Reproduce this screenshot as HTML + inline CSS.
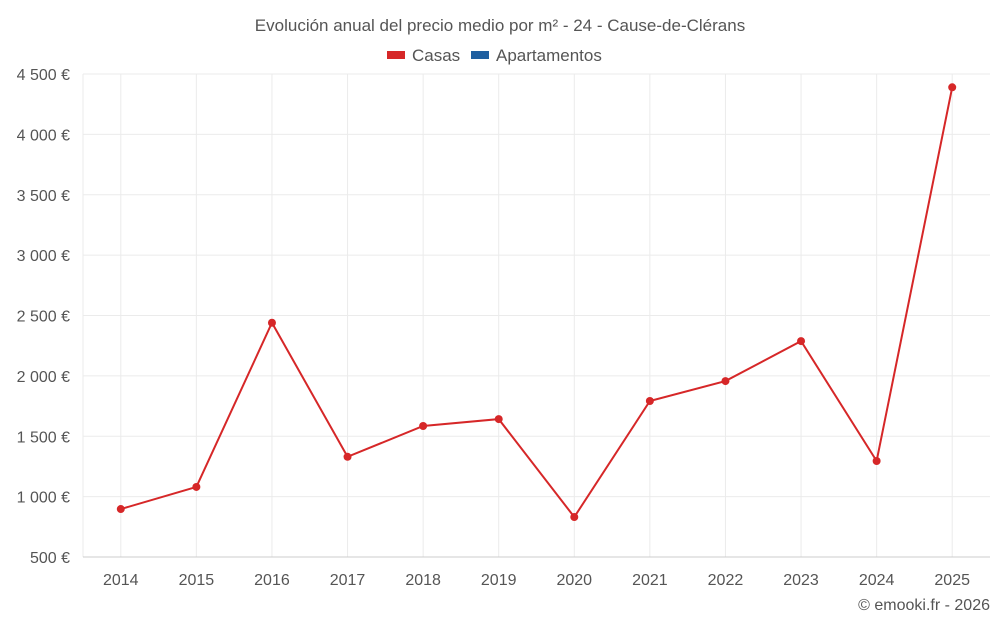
<!DOCTYPE html>
<html><head><meta charset="utf-8">
<style>
body{margin:0;background:#fff;font-family:"Liberation Sans",sans-serif;}
svg text{font-family:"Liberation Sans",sans-serif;fill:#555;}
</style></head>
<body>
<svg id="chart" width="1000" height="625">
<text x="500" y="31" text-anchor="middle" font-size="17">Evolución anual del precio medio por m² - 24 - Cause-de-Clérans</text>
<g>
<g><rect x="387" y="51" width="18" height="8" fill="#d62728"/><text x="412" y="61" font-size="17">Casas</text></g>
<g><rect x="471" y="51" width="18" height="8" fill="#1f5fa0"/><text x="496" y="61" font-size="17">Apartamentos</text></g>
</g>
<g id="grid"></g>
<g id="axes"></g>
<g id="series"></g>
<text x="990" y="610" text-anchor="end" font-size="16">© emooki.fr - 2026</text>
</svg>
<script>
const years = ["2014","2015","2016","2017","2018","2019","2020","2021","2022","2023","2024","2025"];
const casas = [897,1080,2440,1330,1585,1642,831,1792,1957,2288,1295,4390];
const yTicks = [500,1000,1500,2000,2500,3000,3500,4000,4500];
const L=83,R=990,T=74,B=557,yMin=500,yMax=4500;
const bw=(R-L)/years.length;
const xf=i=>L+bw*(i+0.5);
const yf=v=>B-(v-yMin)/(yMax-yMin)*(B-T);
const NS="http://www.w3.org/2000/svg";
function mk(tag,attrs,parent){const e=document.createElementNS(NS,tag);for(const k in attrs)e.setAttribute(k,attrs[k]);parent.appendChild(e);return e;}
const grid=document.getElementById('grid'),axes=document.getElementById('axes'),series=document.getElementById('series');
const fmt=v=>String(v).replace(/\B(?=(\d{3})+(?!\d))/g,' ')+' €';
yTicks.forEach(v=>{
  const g=mk('line',{x1:L,x2:R,y1:yf(v),y2:yf(v),stroke:'#ebebeb','stroke-width':1},grid);
  
  
  const t=mk('text',{x:70,y:yf(v)+6,'text-anchor':'end','font-size':16},axes);
  t.textContent=fmt(v);
  
  
});
const lg=mk('line',{x1:L,x2:L,y1:T,y2:B,stroke:'#ebebeb','stroke-width':1},grid);


years.forEach((y,i)=>{
  const g=mk('line',{x1:xf(i),x2:xf(i),y1:T,y2:B,stroke:'#ebebeb','stroke-width':1},grid);
  
  
});
const ax=mk('line',{x1:L,x2:R,y1:B,y2:B,stroke:'#ccc','stroke-width':1},axes);


years.forEach((y,i)=>{
  const t=mk('text',{x:xf(i),y:585,'text-anchor':'middle','font-size':16},axes);
  t.textContent=y;
  
  
});
const pl=mk('polyline',{points:casas.map((v,i)=>xf(i)+','+yf(v)).join(' '),fill:'none',stroke:'#d62728','stroke-width':2},series);


casas.forEach((v,i)=>{
  const c=mk('circle',{cx:xf(i),cy:yf(v),r:4,fill:'#d62728'},series);
  
  
});
</script>
</body></html>
